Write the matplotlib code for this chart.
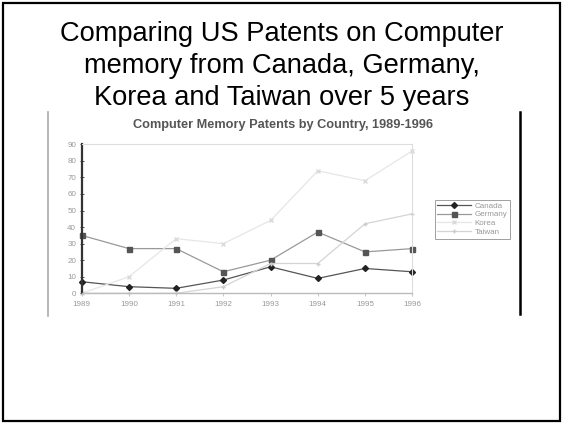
import matplotlib
matplotlib.use("Agg")
import matplotlib.pyplot as plt
from matplotlib.lines import Line2D
from matplotlib.patches import Rectangle

plt.rcParams['font.family'] = ['Liberation Sans', 'DejaVu Sans']

# data
years = [1989, 1990, 1991, 1992, 1993, 1994, 1995, 1996]
canada = [7, 4, 3, 8, 16, 9, 15, 13]
germany = [35, 27, 27, 13, 20, 37, 25, 27]
korea = [0, 10, 33, 30, 44, 74, 68, 86]
taiwan = [0, 0, 0, 4, 18, 18, 42, 48]

title_lines = ["Comparing US Patents on Computer",
               "memory from Canada, Germany,",
               "Korea and Taiwan over 5 years"]

W, H = 563, 424
fig = plt.figure(figsize=(W / 100, H / 100), dpi=100)

# slide frame
fig.add_artist(Rectangle((3 / W, 3 / H), 557 / W, 418 / H, transform=fig.transFigure,
                         fill=False, edgecolor="black", linewidth=1.6))

# slide title, one text per line (baselines)
for line, base in zip(title_lines, [41, 73, 105]):
    fig.text(0.5, 1 - base / H, line, ha="center", va="baseline", fontsize=19.6, color="black")

# edges of the pasted chart picture
fig.add_artist(Line2D([47.8 / W, 47.8 / W], [1 - 112 / H, 1 - 316 / H], transform=fig.transFigure,
                      color="#aaaaaa", linewidth=1.2))
fig.add_artist(Line2D([519.5 / W, 519.5 / W], [1 - 112 / H, 1 - 314 / H], transform=fig.transFigure,
                      color="black", linewidth=1.8))

ax = fig.add_axes([81.7 / W, 1 - 293.3 / H, 330.5 / W, 149 / H])
ax.plot(years, canada, color="#555555", lw=0.9, marker="D", ms=3.0, mfc="#222222", mec="#222222",
        label="Canada", clip_on=False)
ax.plot(years, germany, color="#999999", lw=0.9, marker="s", ms=3.6, mfc="#555555", mec="#555555",
        label="Germany", clip_on=False)
ax.plot(years, korea, color="#e6e6e6", lw=0.9, marker="x", ms=3, mec="#dadada",
        label="Korea", clip_on=False)
ax.plot(years, taiwan, color="#d4d4d4", lw=0.9, marker="+", ms=3, mec="#cccccc",
        label="Taiwan", clip_on=False)

ax.set_xlim(1989, 1996)
ax.set_ylim(0, 90)
ax.set_xticks(years)
ax.set_yticks(range(0, 91, 10))
ax.tick_params(axis="both", labelsize=5.8, labelcolor="#999999", length=2, width=0.6, pad=3.5)
ax.tick_params(axis="y", direction="inout", length=3, color="#333333", pad=2.5)
ax.tick_params(axis="x", direction="out", color="#bbbbbb")
for s in ["top", "right"]:
    ax.spines[s].set_color("#dddddd")
    ax.spines[s].set_linewidth(0.8)
ax.spines["left"].set_color("#333333")
ax.spines["left"].set_linewidth(1.6)
ax.spines["bottom"].set_color("#bbbbbb")
ax.spines["bottom"].set_linewidth(1.0)

fig.text(283 / W, 1 - 125 / H, "Computer Memory Patents by Country, 1989-1996",
         ha="center", va="center", fontsize=9.2, fontweight="bold", color="#555555")

leg = fig.legend(loc="upper left", bbox_to_anchor=(434.5 / W, 1 - 199.5 / H), fontsize=5.8,
                 frameon=True, fancybox=False, edgecolor="#888888", handlelength=4.2,
                 borderpad=0.3, labelspacing=0.15, handletextpad=0.5, borderaxespad=0)
leg.get_frame().set_linewidth(0.7)
for t in leg.get_texts():
    t.set_color("#999999")

fig.savefig("out.png", dpi=100)
